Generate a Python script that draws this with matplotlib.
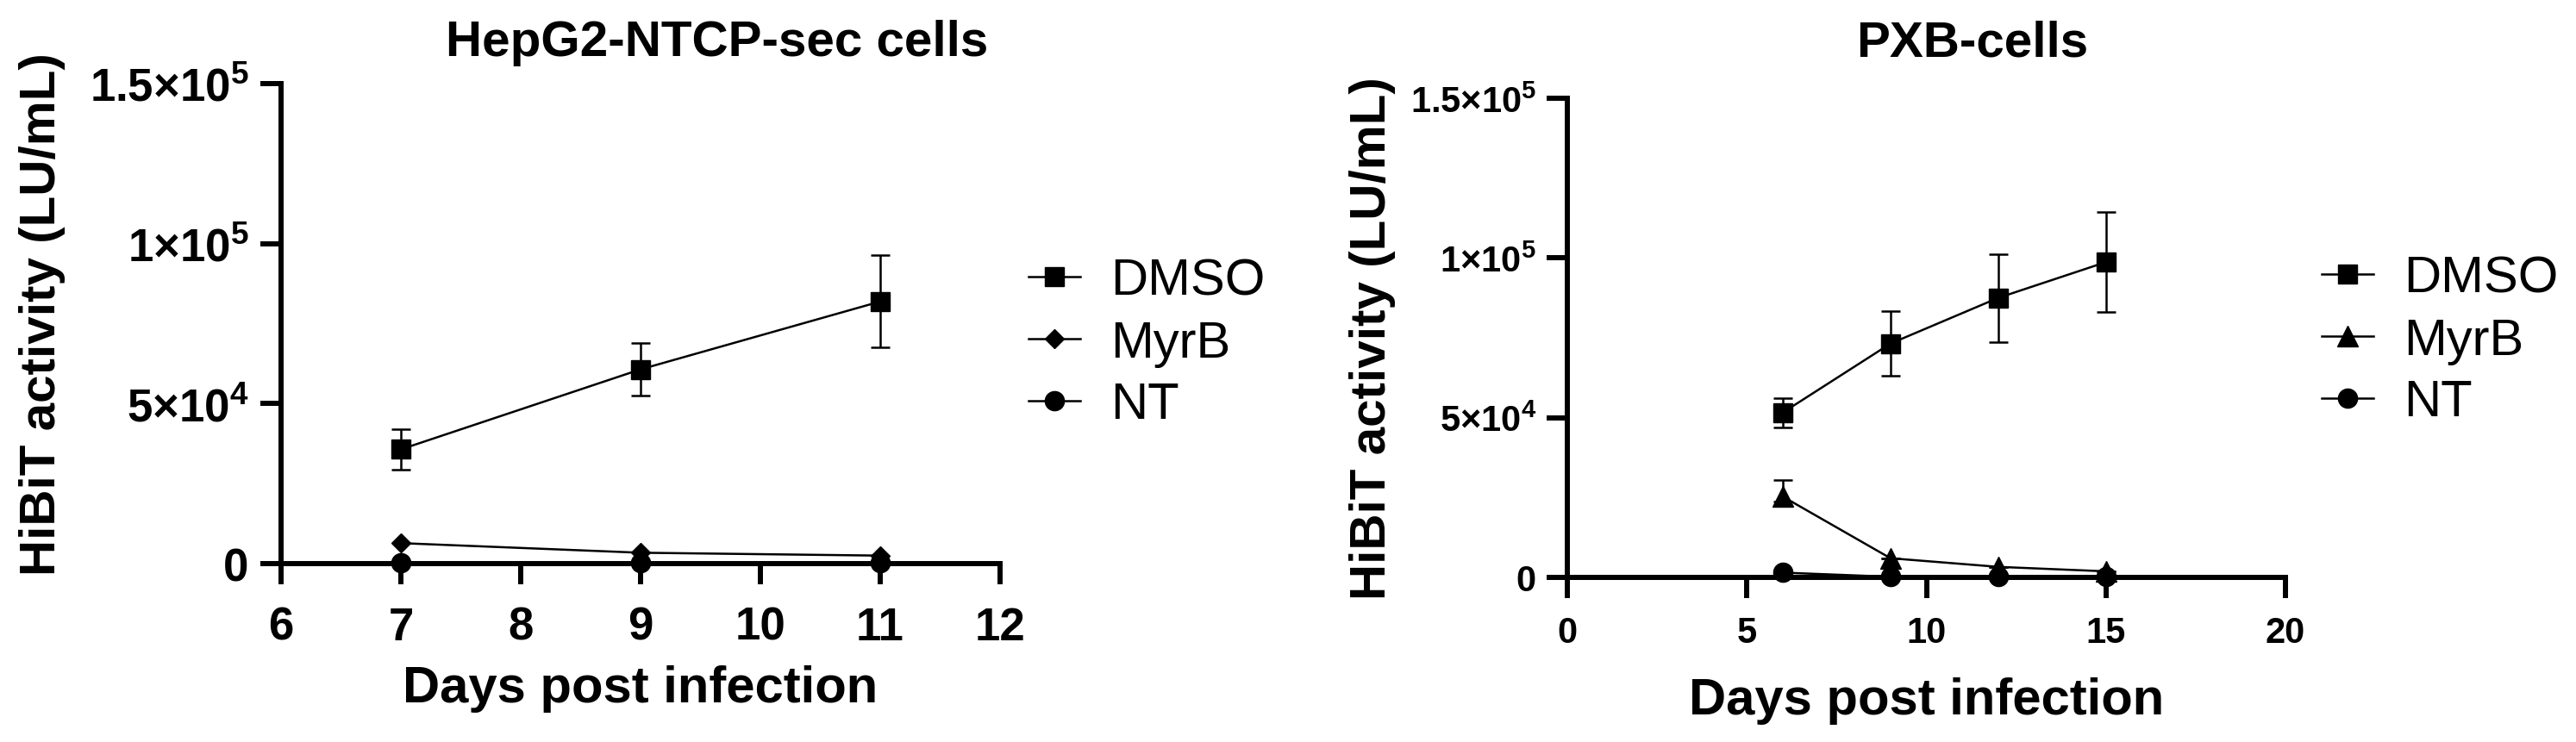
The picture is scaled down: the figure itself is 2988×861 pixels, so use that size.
import matplotlib
matplotlib.use("Agg")
import matplotlib.pyplot as plt
from matplotlib.ticker import FixedLocator

plt.rcParams["font.family"] = ["Liberation Sans", "DejaVu Sans"]
plt.rcParams["mathtext.fontset"] = "custom"
plt.rcParams["mathtext.rm"] = "Liberation Sans:bold"
plt.rcParams["mathtext.bf"] = "Liberation Sans:bold"

# HepG2-NTCP-sec panel
hep_days = [7, 9, 11]
hep_dmso = [35700, 60700, 81900]
hep_dmso_sd = [6300, 8300, 14400]
hep_myrb = [6400, 3400, 2500]
hep_nt = [300, 200, 200]

# PXB panel
pxb_days = [6, 9, 12, 15]
pxb_dmso = [51600, 73200, 87500, 98700]
pxb_dmso_sd = [4600, 10200, 13800, 15700]
pxb_myrb = [25300, 6000, 3300, 1900]
pxb_myrb_sd_low = [1500, 0, 0, 0]
pxb_myrb_sd_high = [5200, 0, 0, 0]
pxb_nt = [1500, 200, 200, 200]

y_ticks = [0, 50000, 100000, 150000]
y_ticklabels = ["0", r"$5{\times}10^{4}$", r"$1{\times}10^{5}$", r"$1.5{\times}10^{5}$"]

W, H = 2988, 862
fig = plt.figure(figsize=(W / 100, H / 100), dpi=100)


def px_axes(x0, x1, ytop, ybot):
    return fig.add_axes([x0 / W, 1 - ybot / H, (x1 - x0) / W, (ybot - ytop) / H])


def style_axes(ax, tick_size, xpad, ypad):
    for s in ["top", "right"]:
        ax.spines[s].set_visible(False)
    for s in ["left", "bottom"]:
        ax.spines[s].set_linewidth(4.3)
    ax.tick_params(width=4.3, length=17, labelsize=tick_size)
    ax.tick_params(axis="x", pad=xpad)
    ax.tick_params(axis="y", pad=ypad)
    ax.set_ylim(0, 150000)
    ax.yaxis.set_major_locator(FixedLocator(y_ticks))
    ax.set_yticklabels(y_ticklabels)
    for lab in ax.get_xticklabels() + ax.get_yticklabels():
        lab.set_fontweight("bold")


def plot_series(ax, x, y, marker, ms, label, yerr=None):
    if yerr is not None:
        ax.errorbar(x, y, yerr=yerr, fmt="none", ecolor="black",
                    elinewidth=1.8, capsize=8, capthick=1.8,
                    clip_on=False, zorder=3)
    ax.plot(x, y, marker=marker, markersize=ms, color="black",
            linewidth=1.8, label=label, clip_on=False, zorder=4)


def add_legend(ax, x_left, y_top):
    ax.legend(loc="upper left", bbox_to_anchor=(x_left / W, 1 - y_top / H),
              bbox_transform=fig.transFigure, frameon=False, fontsize=43,
              handlelength=1.0, handletextpad=0.6, labelspacing=0.28,
              borderpad=0, borderaxespad=0)


# left panel
ax1 = px_axes(326, 1160, 98, 655)
plot_series(ax1, hep_days, hep_dmso, "s", 16, "DMSO", yerr=hep_dmso_sd)
plot_series(ax1, hep_days, hep_myrb, "D", 11, "MyrB")
plot_series(ax1, hep_days, hep_nt, "o", 16, "NT")
ax1.set_xlim(6, 12)
ax1.set_xticks(range(6, 13))
style_axes(ax1, 38, 18, 10)
ax1.set_xlabel("Days post infection", fontsize=43, fontweight="bold")
ax1.xaxis.set_label_coords(0.5, -0.21)
ax1.set_ylabel("HiBiT activity (LU/mL)", fontsize=42, fontweight="bold")
ax1.yaxis.set_label_coords(-0.300, 0.522)
fig.text(832 / W, 1 - 50 / H, "HepG2-NTCP-sec cells", fontsize=42,
         fontweight="bold", ha="center", va="center")
add_legend(ax1, 1193, 300)

# right panel
ax2 = px_axes(1818, 2651, 115, 671)
plot_series(ax2, pxb_days, pxb_dmso, "s", 16, "DMSO", yerr=pxb_dmso_sd)
plot_series(ax2, pxb_days, pxb_myrb, "^", 17, "MyrB",
            yerr=[pxb_myrb_sd_low, pxb_myrb_sd_high])
plot_series(ax2, pxb_days, pxb_nt, "o", 16, "NT")
ax2.set_xlim(0, 20)
ax2.set_xticks(range(0, 21, 5))
style_axes(ax2, 30, 15, 9)
ax2.set_xlabel("Days post infection", fontsize=43, fontweight="bold")
ax2.xaxis.set_label_coords(0.5, -0.207)
ax2.set_ylabel("HiBiT activity (LU/mL)", fontsize=42, fontweight="bold")
ax2.yaxis.set_label_coords(-0.239, 0.5)
fig.text(2288 / W, 1 - 51 / H, "PXB-cells", fontsize=42,
         fontweight="bold", ha="center", va="center")
add_legend(ax2, 2693, 297)

fig.savefig("out.png", dpi=100)
